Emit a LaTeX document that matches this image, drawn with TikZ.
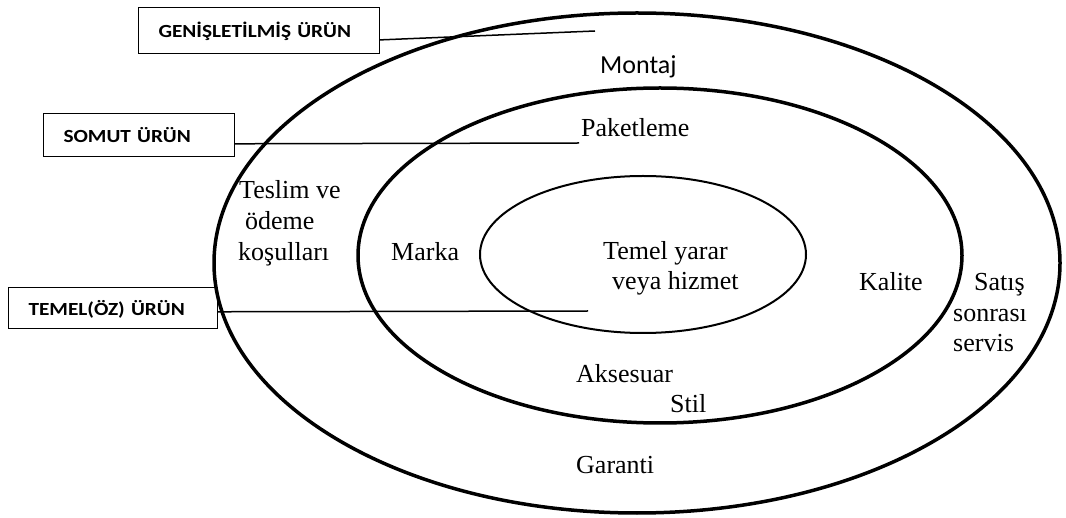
\documentclass[tikz,border=0pt]{standalone}
\usepackage{fontspec}
\setmainfont{Liberation Serif}
\newfontfamily\carlito{Carlito}
\newfontfamily\carlitobold{Carlito}[FakeStretch=1.15, UprightFont={* Bold}]
\usetikzlibrary{calc}
\begin{document}
\begin{tikzpicture}[x=1pt,y=-1pt,
  ring/.style={line width=3.5pt},
  core/.style={line width=2pt},
  lbl/.style={font=\fontsize{26}{30}\selectfont, anchor=base west, inner sep=0pt},
  sanslbl/.style={font=\carlito\fontsize{26}{30}\selectfont, anchor=base west, inner sep=0pt},
  tag/.style={draw, line width=1pt, anchor=north west, inner xsep=20pt, inner ysep=0pt,
    text height=15pt, text depth=0pt,
    font=\carlitobold\fontsize{18.5}{22}\selectfont, align=left},
  leader/.style={line width=1.5pt}]
\useasboundingbox (0,0) rectangle (1066,518);
% rings
\draw[ring] (637,263) ellipse [x radius=423pt, y radius=250pt];
\draw[ring] (660,255.5) ellipse [x radius=302pt, y radius=167.5pt];
\draw[core] (643,254.5) ellipse [x radius=163pt, y radius=78.5pt];
% tags
\node[tag, text width=201pt, minimum height=46pt] (gen) at (138,7) {GENİŞLETİLMİŞ ÜRÜN};
\node[tag, text width=151pt, minimum height=43pt] (somut) at (43,113) {SOMUT ÜRÜN};
\node[tag, text width=169pt, minimum height=41pt] (temel) at (8,287) {TEMEL(ÖZ) ÜRÜN};
\coordinate (genEnd) at (595,31);
\coordinate (somutEnd) at (579,143);
\coordinate (temelEnd) at (588,311);
\draw[leader] ($(gen.south east)!0.3!(gen.north east)$) -- (genEnd);
\draw[leader] ($(somut.south east)!0.3!(somut.north east)$) -- (somutEnd);
\draw[leader] ($(temel.south east)!0.41!(temel.north east)$) -- (temelEnd);
% labels
\node[sanslbl] (montaj) at (600,74) {Montaj};
\node[lbl] (paket) at (581,137) {Paketleme};
\node[lbl] (teslim) at (239,199) {Teslim ve};
\node[lbl] (odeme) at (245,230) {ödeme};
\node[lbl] (kosul) at (238,261) {koşulları};
\node[lbl] (marka) at (391,261) {Marka};
\node[lbl] (temel1) at (603,260) {Temel yarar};
\node[lbl] (temel2) at (612,290) {veya hizmet};
\node[lbl] (kalite) at (859,291) {Kalite};
\node[lbl] (satis1) at (974,291) {Satış};
\node[lbl] (satis2) at (953,322) {sonrası};
\node[lbl] (satis3) at (953,352) {servis};
\node[lbl] (akses) at (576,383) {Aksesuar};
\node[lbl] (stil) at (670,413) {Stil};
\node[lbl] (garanti) at (576,474) {Garanti};
\end{tikzpicture}
\end{document}
